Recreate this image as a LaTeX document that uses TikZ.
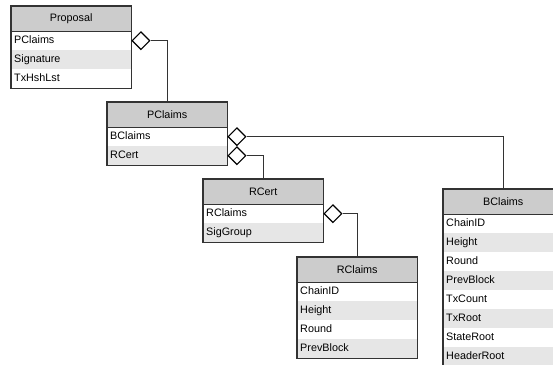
\documentclass[tikz,border=0pt]{standalone}
\usepackage{fontspec}
\setsansfont{Liberation Sans}
\usetikzlibrary{shapes.geometric}
\definecolor{headgray}{HTML}{CCCCCC}
\definecolor{stripe}{HTML}{E6E6E6}
\definecolor{edge}{HTML}{333333}
\begin{document}
\begin{tikzpicture}[x=1pt, y=-1pt, font=\sffamily\fontsize{10.8}{12}\selectfont,
	head/.style={anchor=north west, fill=headgray, minimum width=120pt, minimum height=25pt, inner sep=0pt},
	row/.style={anchor=north west, text width=114pt, align=left, inner xsep=3pt, inner ysep=0pt, minimum height=19pt, text height=7.8pt, text depth=2.2pt},
	frame/.style={draw=edge, line width=1.1pt},
	agg/.style={diamond, draw=black, fill=white, line width=1.1pt, minimum width=18pt, minimum height=18pt, inner sep=0pt, anchor=west},
	link/.style={draw=edge, line width=1.1pt}]
	\useasboundingbox (0,0) rectangle (553,364);
	%Proposal
	\node[head] (prop) at (11,6) {Proposal};
	\foreach \t/\c [count=\i] in {PClaims/white,Signature/stripe,TxHshLst/white}
	\node[row, fill=\c] (prop\i) at (11,12+19*\i) {\t};
	\draw[frame] (prop.north west) rectangle (prop3.south east);
	\draw[frame] (prop.south west) -- (prop.south east);
	%PClaims
	\node[head] (pc) at (107,102) {PClaims};
	\foreach \t/\c [count=\i] in {BClaims/white,RCert/stripe}
	\node[row, fill=\c] (pc\i) at (107,108+19*\i) {\t};
	\draw[frame] (pc.north west) rectangle (pc2.south east);
	\draw[frame] (pc.south west) -- (pc.south east);
	%RCert
	\node[head] (rc) at (203,179) {RCert};
	\foreach \t/\c [count=\i] in {RClaims/white,SigGroup/stripe}
	\node[row, fill=\c] (rc\i) at (203,185+19*\i) {\t};
	\draw[frame] (rc.north west) rectangle (rc2.south east);
	\draw[frame] (rc.south west) -- (rc.south east);
	%RClaims
	\node[head] (rcl) at (297,257) {RClaims};
	\foreach \t/\c [count=\i] in {ChainID/white,Height/stripe,Round/white,PrevBlock/stripe}
	\node[row, fill=\c] (rcl\i) at (297,263+19*\i) {\t};
	\draw[frame] (rcl.north west) rectangle (rcl4.south east);
	\draw[frame] (rcl.south west) -- (rcl.south east);
	%BClaims
	\node[head] (bcl) at (443,189) {BClaims};
	\foreach \t/\c [count=\i] in {ChainID/white,Height/stripe,Round/white,PrevBlock/stripe,
		TxCount/white,TxRoot/stripe,StateRoot/white,HeaderRoot/stripe}
	\node[row, fill=\c] (bcl\i) at (443,195+19*\i) {\t};
	\draw[frame] (bcl.north west) rectangle (bcl8.south east);
	\draw[frame] (bcl.south west) -- (bcl.south east);
	%aggregations
	\node[agg] (d1) at (prop1.east) {};
	\node[agg] (d2) at (pc1.east) {};
	\node[agg] (d3) at (pc2.east) {};
	\node[agg] (d4) at (rc1.east) {};
	\draw[link] (d1.east) -| (pc.north);
	\draw[link] (d2.east) -| (bcl.north);
	\draw[link] (d3.east) -| (rc.north);
	\draw[link] (d4.east) -| (rcl.north);
\end{tikzpicture}
\end{document}
